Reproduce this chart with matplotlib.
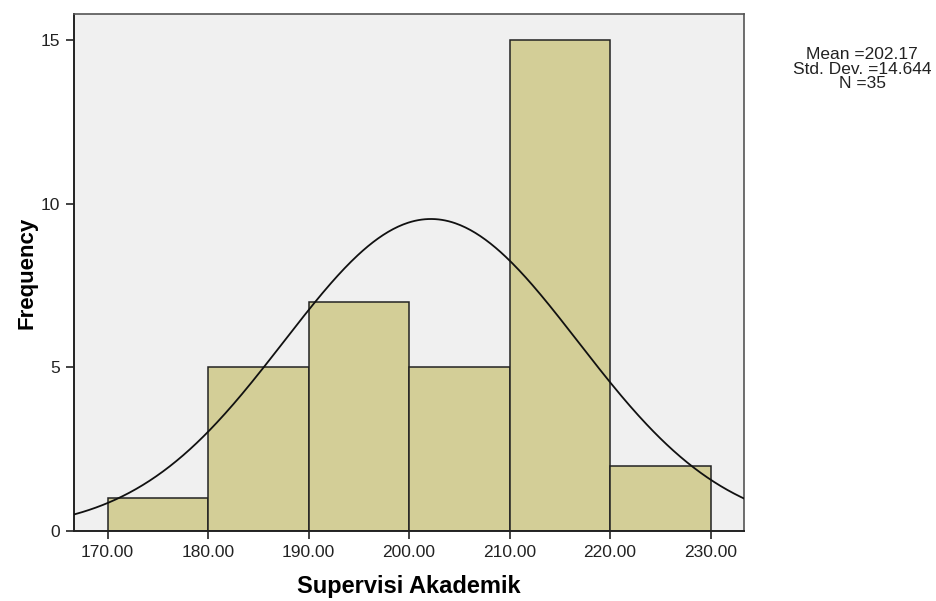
import numpy as np
import matplotlib.pyplot as plt

plt.rcParams['font.family'] = ['Liberation Sans', 'DejaVu Sans']

bin_edges = [170, 180, 190, 200, 210, 220, 230]
counts = [1, 5, 7, 5, 15, 2]
mean = 202.17
std = 14.644
n = 35
x_ticks = [170, 180, 190, 200, 210, 220, 230]
y_ticks = [0, 5, 10, 15]

fig = plt.figure(figsize=(9.36, 6.01), dpi=100)
ax = fig.add_axes([0.0791, 0.1165, 0.7159, 0.8602])
ax.set_facecolor('#F0F0F0')

width = np.diff(bin_edges)
ax.bar(bin_edges[:-1], counts, width=width, align='edge',
       color='#D3CE97', edgecolor='#222222', linewidth=1.1, zorder=2)

# normal curve scaled to counts
xs = np.linspace(166.67, 233.33, 400)
bw = bin_edges[1] - bin_edges[0]
ys = n * bw * np.exp(-0.5 * ((xs - mean) / std) ** 2) / (std * np.sqrt(2 * np.pi))
ax.plot(xs, ys, color='#111111', linewidth=1.3, zorder=3)

ax.set_xlim(166.67, 233.33)
ax.set_ylim(0, 15.8)
ax.set_xticks(x_ticks)
ax.set_xticklabels(['%.2f' % v for v in x_ticks])
ax.set_yticks(y_ticks)
ax.tick_params(direction='out', length=6, width=1.2, labelsize=12.5, colors='#222222', pad=4)
for s in ['left', 'bottom']:
    ax.spines[s].set_color('#222222')
    ax.spines[s].set_linewidth(1.4)
for s in ['top', 'right']:
    ax.spines[s].set_color('#555555')
    ax.spines[s].set_linewidth(1.2)

ax.set_xlabel('Supervisi Akademik', fontsize=17, fontweight='bold', labelpad=11)
ax.set_ylabel('Frequency', fontsize=16, fontweight='bold', labelpad=2)

fig.text(0.921, 0.885, 'Mean =%.2f\nStd. Dev. =%.3f\nN =%d' % (mean, std, n),
         ha='center', va='center', fontsize=12.5, linespacing=0.93, color='#222222')

fig.savefig('out.png', dpi=100)
